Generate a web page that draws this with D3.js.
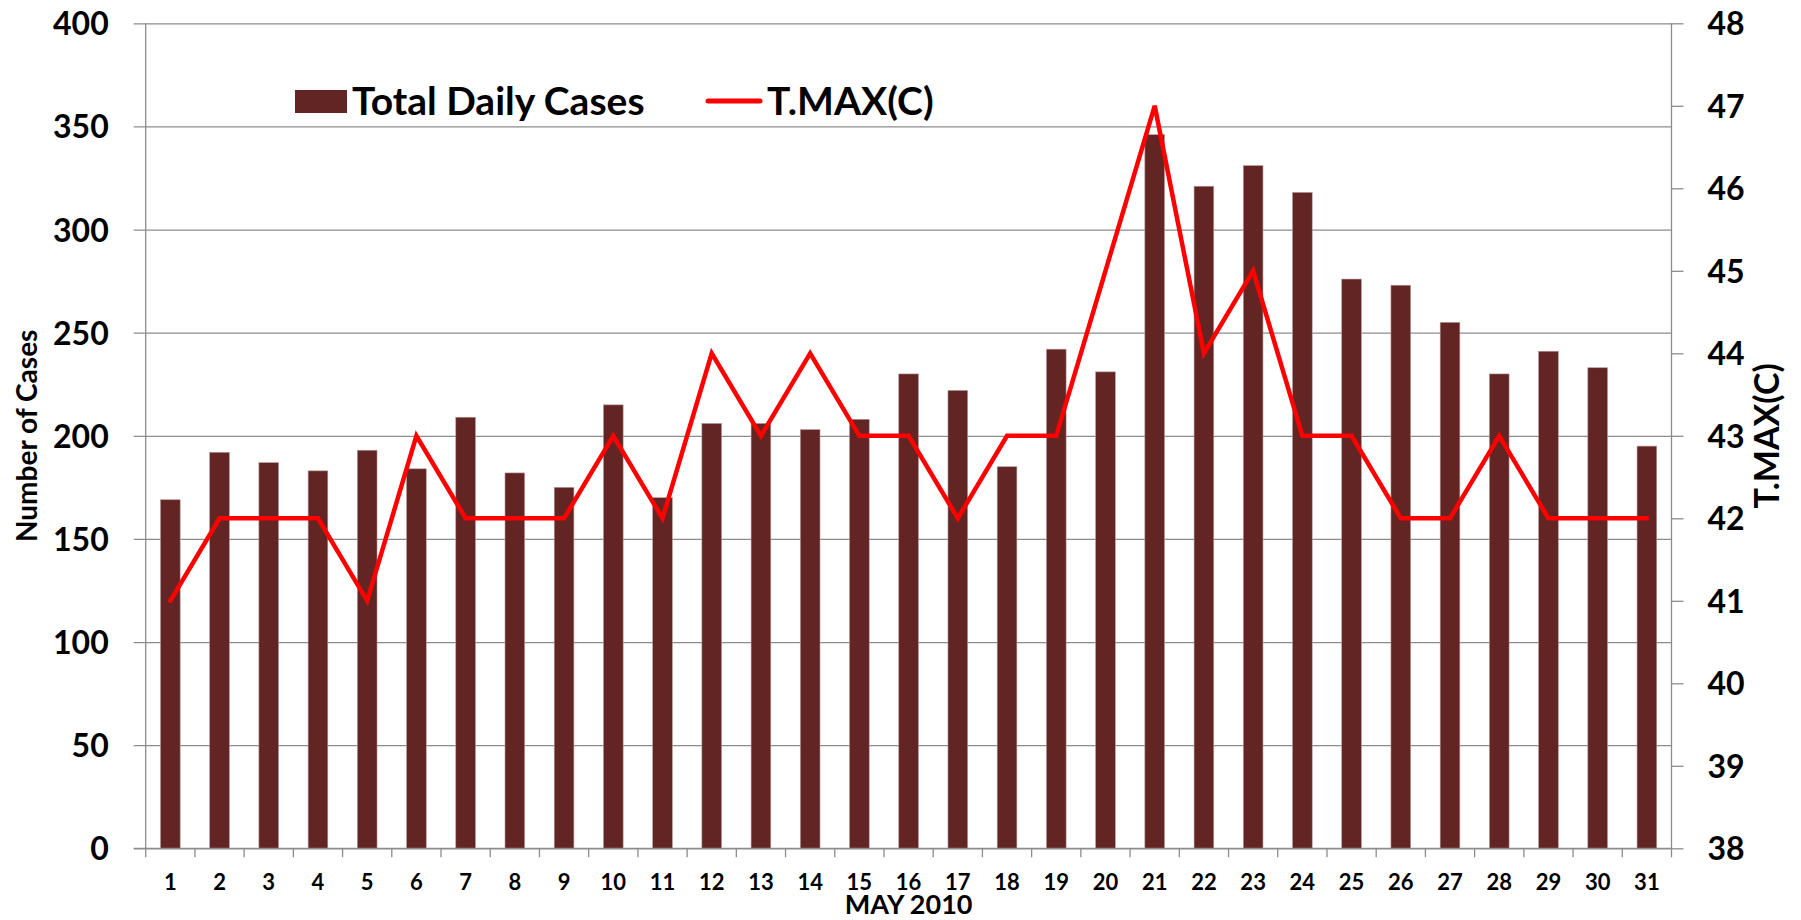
<!DOCTYPE html>
<html>
<head>
<meta charset="utf-8">
<script src="https://cdn.jsdelivr.net/npm/d3@7"></script>
<style>
  body { margin: 0; background: #fff; }
  text { font-family: Lato, "Open Sans", sans-serif; font-weight: bold; fill: #000; }
</style>
</head>
<body>
<script>
// data (May 2010)
var days = d3.range(1, 32).map(String);
var cases = [169, 192, 187, 183, 193, 184, 209, 182, 175, 215, 170, 206, 206, 203, 208,
             230, 222, 185, 242, 231, 346, 321, 331, 318, 276, 273, 255, 230, 241, 233, 195];
var tmax = [41, 42, 42, 42, 41, 43, 42, 42, 42, 43, 42, 44, 43, 44, 43,
            43, 42, 43, 43, 45, 47, 44, 45, 43, 43, 42, 42, 43, 42, 42, 42];
var leftTicks = [0, 50, 100, 150, 200, 250, 300, 350, 400];
var rightTicks = [38, 39, 40, 41, 42, 43, 44, 45, 46, 47, 48];

// set the dimensions and margins of the graph
var margin = {top: 23.3, right: 129.5, bottom: 71.7, left: 145.7},
    width = 1801 - margin.left - margin.right,
    height = 920 - margin.top - margin.bottom;

var barColor = "#632523",
    lineColor = "#ff0000",
    gridColor = "#8c8c8c";

// set the ranges
var x = d3.scaleBand().domain(days).range([0, width])
    .paddingInner(0.6).paddingOuter(0.3);
var y = d3.scaleLinear().domain([0, 400]).range([height, 0]);
var y2 = d3.scaleLinear().domain([38, 48]).range([height, 0]);

var svg = d3.select("body").append("svg")
    .attr("width", width + margin.left + margin.right)
    .attr("height", height + margin.top + margin.bottom)
  .append("g")
    .attr("transform", "translate(" + margin.left + "," + margin.top + ")");

// gridlines + left axis (ticks stick out 12px to the left)
var yAxis = svg.append("g")
    .attr("class", "y-axis")
    .call(d3.axisLeft(y).tickValues(leftTicks).tickSize(12).tickPadding(25));
yAxis.select(".domain").remove();
yAxis.selectAll(".tick line")
    .attr("x1", -12).attr("x2", width)
    .attr("stroke", gridColor).attr("stroke-width", 1.3);
yAxis.selectAll(".tick text")
    .style("font-size", "32px").attr("dy", "0.36em");

// right axis
var yAxis2 = svg.append("g")
    .attr("class", "y-axis2")
    .attr("transform", "translate(" + width + ",0)")
    .call(d3.axisRight(y2).tickValues(rightTicks).tickSize(12).tickPadding(24));
yAxis2.select(".domain").attr("stroke", gridColor).attr("stroke-width", 1.3)
    .attr("d", "M0,0V" + height);
yAxis2.selectAll(".tick line").attr("stroke", gridColor).attr("stroke-width", 1.3);
yAxis2.selectAll(".tick text")
    .style("font-size", "32px").attr("dy", "0.36em");

// left axis line
svg.append("line")
    .attr("x1", 0).attr("x2", 0).attr("y1", 0).attr("y2", height)
    .attr("stroke", gridColor).attr("stroke-width", 1.3);

// bars
svg.selectAll("rect.bar")
    .data(cases)
  .enter().append("rect")
    .attr("class", "bar")
    .attr("x", function(d, i) { return x(days[i]); })
    .attr("y", function(d) { return y(d); })
    .attr("width", x.bandwidth())
    .attr("height", function(d) { return height - y(d); })
    .attr("fill", barColor)
    .attr("stroke", "#b49a9a")
    .attr("stroke-width", 0.6);

// x axis: labels at centres, tick marks at category edges
var half = (x.step() - x.bandwidth()) / 2;
var xAxis = svg.append("g")
    .attr("class", "x-axis")
    .attr("transform", "translate(0," + height + ")")
    .call(d3.axisBottom(x).tickSize(0).tickPadding(26));
xAxis.select(".domain").remove();
xAxis.selectAll(".tick text").style("font-size", "22px");

var edges = days.map(function(d) { return x(d) - half; }).concat([width]);
xAxis.selectAll("line.edge")
    .data(edges)
  .enter().append("line")
    .attr("class", "edge")
    .attr("x1", function(d) { return d; }).attr("x2", function(d) { return d; })
    .attr("y1", 0).attr("y2", 9)
    .attr("stroke", gridColor).attr("stroke-width", 1.3);
svg.append("line")
    .attr("x1", -12).attr("x2", width).attr("y1", height).attr("y2", height)
    .attr("stroke", gridColor).attr("stroke-width", 1.3);

// temperature line
var line = d3.line()
    .x(function(d, i) { return x(days[i]) + x.bandwidth() / 2; })
    .y(function(d) { return y2(d); });
svg.append("path")
    .datum(tmax)
    .attr("d", line)
    .attr("fill", "none")
    .attr("stroke", lineColor)
    .attr("stroke-width", 4.5)
    .attr("stroke-linejoin", "miter")
    .attr("stroke-linecap", "round");

// axis titles
svg.append("text")
    .attr("transform", "translate(" + (27 - margin.left) + "," + (height / 2) + ") rotate(-90)")
    .attr("dy", "0.36em")
    .style("text-anchor", "middle")
    .style("font-size", "28px")
    .text("Number of Cases");
svg.append("text")
    .attr("transform", "translate(" + (width + 95) + "," + (height / 2) + ") rotate(-90)")
    .attr("dy", "0.36em")
    .style("text-anchor", "middle")
    .style("font-size", "34px")
    .text("T.MAX(C)");
svg.append("text")
    .attr("x", width / 2)
    .attr("y", height + 66)
    .style("text-anchor", "middle")
    .style("font-size", "27px")
    .text("MAY 2010");

// legend
var legend = svg.append("g")
    .attr("transform", "translate(" + (295 - margin.left) + "," + (101 - margin.top) + ")");
legend.append("rect")
    .attr("x", 0).attr("y", -11).attr("width", 52).attr("height", 23)
    .attr("fill", barColor);
legend.append("text")
    .attr("x", 57).attr("dy", "0.36em")
    .style("font-size", "39px")
    .text("Total Daily Cases");
legend.append("line")
    .attr("x1", 413).attr("x2", 465).attr("y1", 0).attr("y2", 0)
    .attr("stroke", lineColor).attr("stroke-width", 5).attr("stroke-linecap", "round");
legend.append("text")
    .attr("x", 472).attr("dy", "0.36em")
    .style("font-size", "39px")
    .text("T.MAX(C)");
</script>
</body>
</html>
